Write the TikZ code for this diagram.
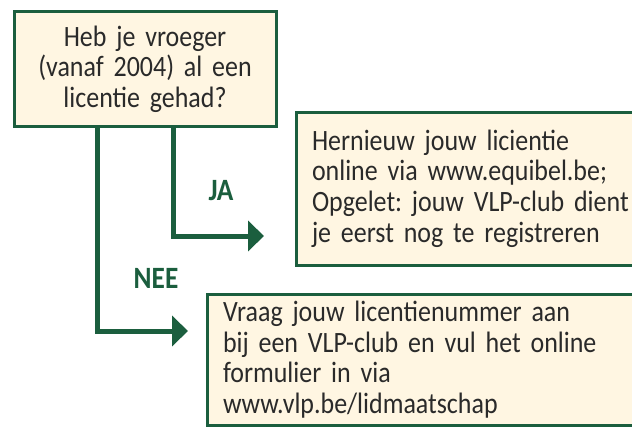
\documentclass[tikz,border=0pt]{standalone}
\usepackage{fontspec}
\setmainfont[FakeStretch=0.88]{Carlito}
\usetikzlibrary{arrows.meta}
\definecolor{vlpgreen}{HTML}{1B5E3E}
\definecolor{vlpcream}{HTML}{FFF6E2}
\definecolor{vlptext}{HTML}{2A2A2A}

\begin{document}
\begin{tikzpicture}[x=1pt, y=-1pt,
    box/.style={draw=vlpgreen, fill=vlpcream, line width=3pt, text=vlptext,
        font=\fontsize{29.5}{30.7}\selectfont\frenchspacing, inner xsep=16pt},
    flow/.style={draw=vlpgreen, line width=5pt, -{Triangle[length=16pt,width=30pt]}},
    answer/.style={text=vlpgreen, font=\fontsize{31}{30}\selectfont\bfseries},
]
\clip (0,0) rectangle (632,428);
\fill[white] (0,0) rectangle (632,428);

% vraag en antwoorden
\node[box, anchor=north west, minimum width=262pt, minimum height=114pt,
      text width=250pt, align=center, inner xsep=0pt] (vraag) at (12.5,10.5)
      {Heb je vroeger\\(vanaf 2004) al een\\licentie gehad?};
\node[box, anchor=north west, minimum height=153pt, text width=420pt,
      align=left] (ja box) at (294.5,110.5)
      {Hernieuw jouw licientie\\online via www.equibel.be;\\Opgelet: jouw VLP-club dient\\je eerst nog te registreren};
\node[box, anchor=north west, text width=480pt, align=left, inner ysep=7pt]
      (nee box) at (205.5,292.5)
      {Vraag jouw licentienummer aan\\bij een VLP-club en vul het online\\formulier in via\\www.vlp.be/lidmaatschap};

\node[answer] (ja) at (221,191) {JA};
\node[answer] (nee) at (156,278) {NEE};

\coordinate (ja tip) at (264,236);
\coordinate (nee tip) at (188,331);
\draw[flow] ([xshift=28.5pt]vraag.south) |- (ja tip);
\draw[flow] ([xshift=-47.5pt]vraag.south) |- (nee tip);
\end{tikzpicture}
\end{document}
